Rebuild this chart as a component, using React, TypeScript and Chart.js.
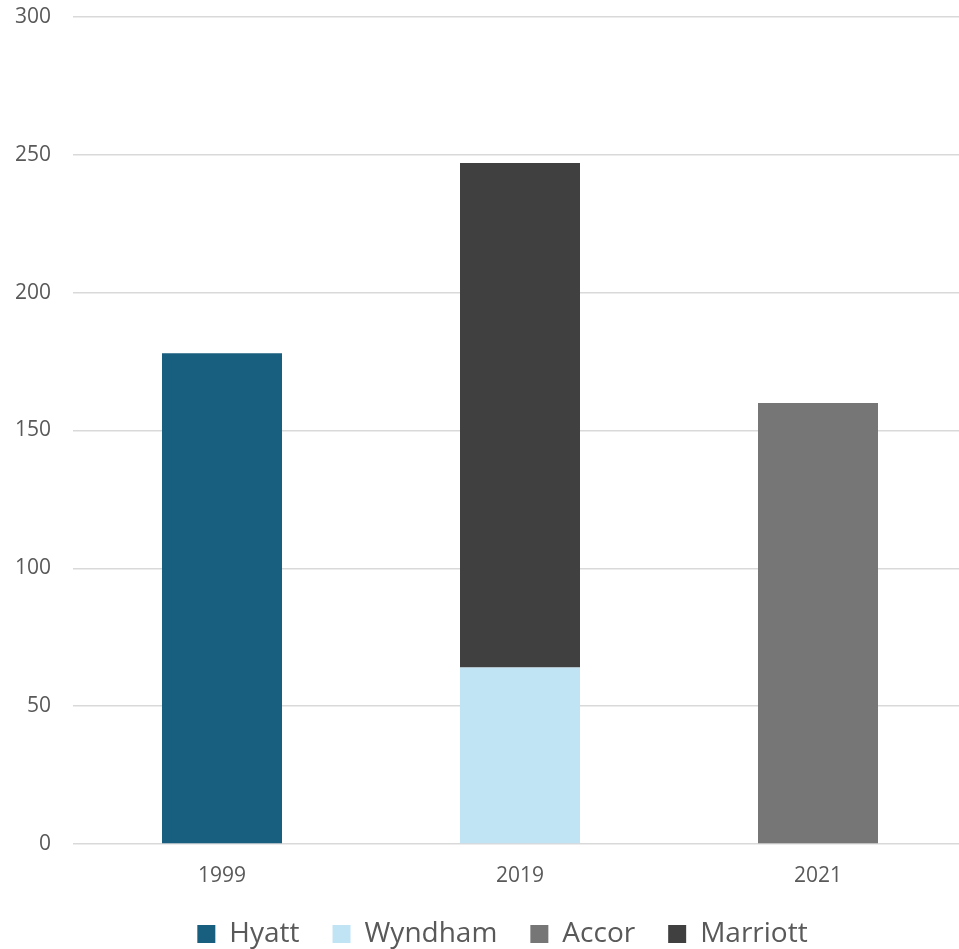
import React, { useEffect, useRef } from "react";
import { Chart, registerables } from "chart.js";

Chart.register(...registerables);

const categories = ["1999", "2019", "2021"];
const hyatt = [178, null, null];
const wyndham = [null, 64, null];
const accor = [null, null, 160];
const marriott = [null, 183, null];
const yTicks = [0, 50, 100, 150, 200, 250, 300];

const FONT = "'Open Sans', 'Liberation Sans', Arial, sans-serif";

const legendShift = {
  id: "legendShift",
  afterLayout(chart: any) {
    const l = chart.legend;
    if (l) {
      l.left += 19;
      l.right += 19;
    }
  },
};

export default function App() {
  const ref = useRef<HTMLCanvasElement | null>(null);

  useEffect(() => {
    if (!ref.current) return;
    const chart = new Chart(ref.current, {
      type: "bar",
      data: {
        labels: categories,
        datasets: [
          { label: "Hyatt", data: hyatt, backgroundColor: "#185E7E" },
          { label: "Wyndham", data: wyndham, backgroundColor: "#C1E4F5" },
          { label: "Accor", data: accor, backgroundColor: "#767676" },
          { label: "Marriott", data: marriott, backgroundColor: "#404040" },
        ],
      },
      options: {
        animation: false,
        responsive: false,
        devicePixelRatio: 1,
        layout: { padding: { left: 0, right: 8, top: 0, bottom: 0 } },
        datasets: {
          bar: { categoryPercentage: 1, barPercentage: 120 / 298, skipNull: true },
        },
        scales: {
          x: {
            stacked: true,
            grid: { display: false, drawTicks: false },
            border: { display: false },
            ticks: { color: "#595959", font: { family: FONT, size: 21 }, padding: 19 },
            afterFit: (s: any) => {
              s.height = 43;
            },
          },
          y: {
            stacked: true,
            min: 0,
            max: 300,
            afterBuildTicks: (s: any) => {
              s.ticks = yTicks.map((v) => ({ value: v }));
            },
            grid: { color: "#d9d9d9", lineWidth: 1.5, drawTicks: false },
            border: { display: false },
            ticks: { color: "#595959", font: { family: FONT, size: 21 }, padding: 22 },
            afterFit: (s: any) => {
              s.width = 73;
              s.paddingTop = 17;
              s.paddingBottom = 0;
            },
          },
        },
        plugins: {
          legend: {
            position: "bottom",
            labels: {
              color: "#595959",
              font: { family: FONT, size: 28 },
              boxWidth: 18,
              boxHeight: 18,
              padding: 33,
            },
          },
          tooltip: { enabled: false },
        },
      },
      plugins: [legendShift],
    });
    return () => chart.destroy();
  }, []);

  return (
    <div
      style={{
        position: "fixed",
        left: 0,
        top: 0,
        width: 959,
        height: 949,
        overflow: "hidden",
        background: "#fff",
      }}
    >
      <canvas ref={ref} width={975} height={958} style={{ width: 975, height: 958, display: "block" }} />
    </div>
  );
}
